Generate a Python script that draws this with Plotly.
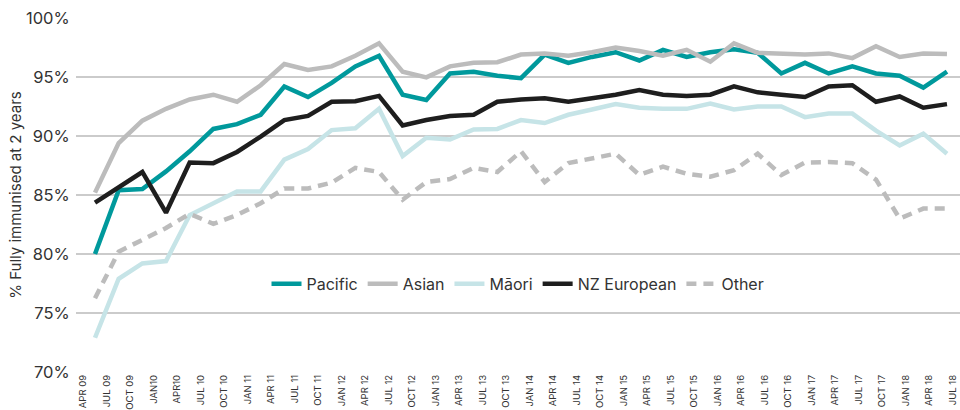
import numpy as np
import plotly.graph_objects as go

tick_labels = ["APR 09", "JUL 09", "OCT 09", "JAN10", "APR10", "JUL 10", "OCT 10", "JAN 11",
               "APR 11", "JUL 11", "OCT 11", "JAN 12", "APR 12", "JUL 12", "OCT 12", "JAN 13",
               "APR 13", "JUL 13", "OCT 13", "JAN 14", "APR 14", "JUL 14", "OCT 14", "JAN 15",
               "APR 15", "JUL 15", "OCT 15", "JAN 16", "APR 16", "JUL 16", "OCT 16", "JAN 17",
               "APR 17", "JUL 17", "OCT 17", "JAN 18", "APR 18", "JUL 18"]

pacific = [80.0, 85.4, 85.5, 87.0, 88.7, 90.6, 91.0, 91.8, 94.2, 93.3, 94.5, 95.9, 96.8,
           93.5, 93.05, 95.3, 95.45, 95.1, 94.9, 96.9, 96.2, 96.7, 97.1, 96.4, 97.3, 96.7,
           97.1, 97.35, 97.05, 95.3, 96.2, 95.3, 95.9, 95.3, 95.1, 94.1, 95.45]
asian = [85.2, 89.4, 91.3, 92.3, 93.1, 93.5, 92.9, 94.3, 96.1, 95.6, 95.9, 96.8, 97.85,
         95.45, 94.97, 95.9, 96.2, 96.25, 96.9, 97.0, 96.8, 97.1, 97.5, 97.2, 96.8, 97.3,
         96.3, 97.85, 97.05, 96.95, 96.9, 97.0, 96.6, 97.6, 96.7, 97.0, 96.95]
maori = [72.9, 77.9, 79.2, 79.4, 83.3, 84.25, 85.3, 85.3, 88.0, 88.9, 90.5, 90.65, 92.3,
         88.3, 89.85, 89.7, 90.55, 90.6, 91.35, 91.1, 91.8, 92.25, 92.7, 92.4, 92.3, 92.3,
         92.75, 92.25, 92.5, 92.5, 91.6, 91.9, 91.9, 90.45, 89.2, 90.2, 88.5]
nz_european = [84.35, 85.6, 86.95, 83.5, 87.75, 87.7, 88.65, 89.95, 91.35, 91.7, 92.9, 92.95,
               93.4, 90.9, 91.35, 91.7, 91.8, 92.9, 93.1, 93.2, 92.9, 93.2, 93.5, 93.9, 93.5,
               93.4, 93.5, 94.2, 93.7, 93.5, 93.3, 94.2, 94.3, 92.9, 93.35, 92.4, 92.7]
other = [76.25, 80.2, 81.2, 82.2, 83.4, 82.55, 83.3, 84.3, 85.55, 85.55, 86.05, 87.3, 86.95,
         84.6, 86.1, 86.35, 87.3, 86.95, 88.7, 86.1, 87.7, 88.1, 88.5, 86.7, 87.4, 86.8,
         86.55, 87.1, 88.5, 86.7, 87.75, 87.8, 87.7, 86.3, 83.0, 83.85, 83.85]

series = [
    ("Pacific", pacific, "#00999c", "solid"),
    ("Asian", asian, "#bcbcbc", "solid"),
    ("Māori", maori, "#c6e4e7", "solid"),
    ("NZ European", nz_european, "#1e1e1e", "solid"),
    ("Other", other, "#bcbcbc", "10px,7px"),
]

FONT = "Inter, 'Noto Sans', sans-serif"
TXT = "#333333"
GRID = "#cbcbcb"

fig = go.Figure()
x = list(range(len(pacific)))
for name, vals, color, dash in series:
    fig.add_trace(go.Scatter(x=x, y=vals, name=name, mode="lines",
                             line=dict(color=color, width=4.5, dash=dash)))

tickvals = list(np.linspace(-0.5, 36.25, len(tick_labels)))

fig.update_layout(
    width=960, height=410,
    margin=dict(l=76, r=0, t=18, b=38),
    paper_bgcolor="white", plot_bgcolor="white",
    font=dict(family=FONT, color=TXT),
    showlegend=True,
    legend=dict(orientation="h", x=0.5, xanchor="center", y=0.249, yanchor="middle",
                font=dict(size=16, color=TXT), bgcolor="rgba(0,0,0,0)", itemwidth=30),
    xaxis=dict(range=[-0.803, 36.55], tickvals=tickvals, ticktext=tick_labels,
               tickangle=-90, tickfont=dict(size=9.5, color=TXT), showgrid=False,
               zeroline=False, showline=False, ticks="", automargin=False),
    yaxis=dict(range=[70, 100], tickvals=[70, 75, 80, 85, 90, 95, 100],
               ticktext=["70%", "75%", "80%", "85%", "90%", "95%", "100%"],
               tickfont=dict(size=16.5, color=TXT), showgrid=True, gridcolor=GRID,
               gridwidth=1.5, zeroline=False, showline=False,
               ticks="outside", ticklen=2, tickcolor="rgba(0,0,0,0)", automargin=False,
               title=dict(text="% Fully immunised at 2 years", font=dict(size=15, color=TXT),
                          standoff=0)),
)

fig.write_html("out.html", config={"displayModeBar": False},
               post_script="document.body.style.margin='0';document.body.style.overflow='hidden';")
